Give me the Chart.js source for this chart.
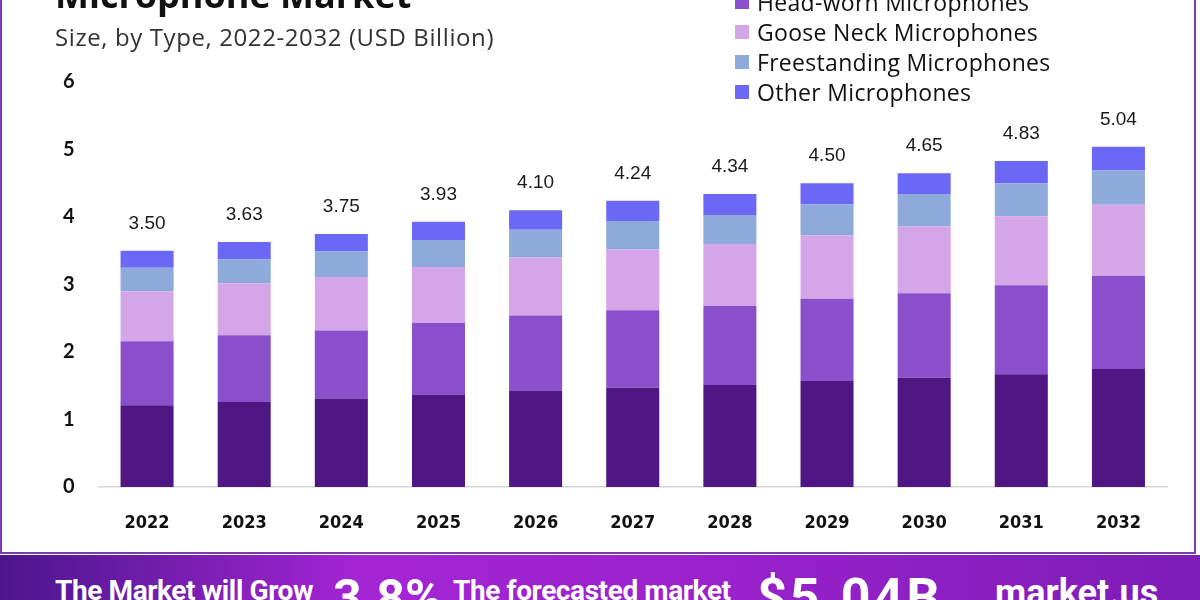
<!DOCTYPE html>
<html>
<head>
  <title>Microphone Market</title>
  <script src="https://cdn.jsdelivr.net/npm/chart.js"></script>
  <style>
    html, body { margin: 0; padding: 0; }
    body { width: 1200px; height: 600px; position: relative; overflow: hidden; background: #fff; font-family: "Open Sans", sans-serif; }
    #frame { position: absolute; left: 0; top: -10px; width: 1196px; height: 564px; border: 2px solid #7a3cb0; border-top: none; box-sizing: border-box; }
    #chartBox { position: absolute; left: 0; top: 0; width: 1200px; height: 553px; }
    #title { position: absolute; left: 55px; top: -30px; font: 700 36px "Open Sans", sans-serif; color: #111; margin: 0; }
    #subtitle { position: absolute; left: 55px; top: 20px; font: 400 24px "Open Sans", sans-serif; letter-spacing: 0.6px; color: #333; }
    #legend { position: absolute; left: 735px; top: -43px; }
    .item { height: 30px; display: flex; align-items: center; font: 400 23px "Open Sans", sans-serif; letter-spacing: 0.3px; color: #111; }
    .box { width: 14px; height: 14px; margin-right: 8px; }
    #banner { position: absolute; left: 0; top: 555px; width: 1200px; height: 60px;
      background: linear-gradient(90deg, #4b168d 0%, #a425d4 30%, #9a22cc 60%, #7d1cb6 100%); color: #fff; }
    .bt { position: absolute; font-family: Roboto, sans-serif; font-weight: 700; white-space: nowrap; }
  </style>
</head>
<body>
  <div id="frame"></div>
  <div id="chartBox"><canvas id="myChart"></canvas></div>
  <h1 id="title">Microphone Market</h1>
  <div id="subtitle">Size, by Type, 2022-2032 (USD Billion)</div>
  <div id="legend"></div>
  <div id="banner">
    <span class="bt" style="left:55px; top:19px; font-size:28px; letter-spacing:-0.4px;">The Market will Grow</span>
    <span class="bt" style="left:333px; top:14px; font-size:50px;">3.8%</span>
    <span class="bt" style="left:453px; top:19px; font-size:28px; letter-spacing:-0.4px;">The forecasted market</span>
    <span class="bt" style="left:757px; top:12px; font-size:52px; letter-spacing:3px;">$5.04B</span>
    <span class="bt" style="left:995px; top:17px; font-size:36px;">market.us</span>
  </div>
  <script>
    // values (USD billion)
    const years = ['2022','2023','2024','2025','2026','2027','2028','2029','2030','2031','2032'];
    const handheld     = [1.21, 1.26, 1.31, 1.37, 1.43, 1.47, 1.51, 1.57, 1.62, 1.67, 1.75];
    const headWorn     = [0.95, 0.99, 1.01, 1.06, 1.11, 1.15, 1.17, 1.22, 1.25, 1.32, 1.38];
    const gooseNeck    = [0.74, 0.77, 0.79, 0.83, 0.86, 0.90, 0.92, 0.94, 0.99, 1.02, 1.05];
    const freestanding = [0.35, 0.35, 0.38, 0.40, 0.41, 0.42, 0.43, 0.46, 0.48, 0.49, 0.51];
    const other        = [0.25, 0.26, 0.26, 0.27, 0.29, 0.30, 0.31, 0.31, 0.31, 0.33, 0.35];
    const totals = ['3.50','3.63','3.75','3.93','4.10','4.24','4.34','4.50','4.65','4.83','5.04'];
    const yTicks = [0, 1, 2, 3, 4, 5, 6];

    const series = [
      { label: 'Handheld Microphones', data: handheld, color: '#4f1784' },
      { label: 'Head-worn Microphones', data: headWorn, color: '#8a50cc' },
      { label: 'Goose Neck Microphones', data: gooseNeck, color: '#d4a6e8' },
      { label: 'Freestanding Microphones', data: freestanding, color: '#8eaadb' },
      { label: 'Other Microphones', data: other, color: '#6b68f6' }
    ];

    // totals above each stack
    const totalLabels = {
      id: 'totalLabels',
      afterDatasetsDraw(chart) {
        const ctx = chart.ctx;
        const top = chart.getDatasetMeta(chart.data.datasets.length - 1);
        ctx.save();
        ctx.font = '19px "Liberation Sans", Arial, sans-serif';
        ctx.fillStyle = '#1a1a1a';
        ctx.textAlign = 'center';
        ctx.textBaseline = 'alphabetic';
        top.data.forEach((bar, i) => {
          ctx.fillText(totals[i], bar.x, bar.y - 22);
        });
        ctx.restore();
      }
    };

    const ctx = document.getElementById('myChart').getContext('2d');
    const myChart = new Chart(ctx, {
      type: 'bar',
      data: {
        labels: years,
        datasets: series.map(s => ({
          label: s.label,
          data: s.data,
          backgroundColor: s.color,
          borderWidth: 0,
          barPercentage: 0.546,
          categoryPercentage: 1
        }))
      },
      options: {
        responsive: true,
        maintainAspectRatio: false,
        animation: false,
        layout: { padding: { top: 82, right: 33, left: 0, bottom: 0 } },
        plugins: { legend: { display: false }, tooltip: { enabled: false }, title: { display: false } },
        scales: {
          x: {
            stacked: true,
            grid: { display: false },
            border: { display: true, color: '#d6d6d6', width: 1.5 },
            afterFit: (s) => { s.height = 66; },
            ticks: {
              padding: 18,
              color: '#111',
              font: { family: '"Liberation Sans Narrow", "DejaVu Sans Condensed", sans-serif', weight: 'bold', size: 18 }
            }
          },
          y: {
            stacked: true,
            min: 0,
            max: 6,
            grid: { display: false },
            border: { display: false },
            afterFit: (s) => { s.width = 98.5; },
            afterBuildTicks: (s) => { s.ticks = yTicks.map(v => ({ value: v })); },
            ticks: {
              padding: 16,
              color: '#111',
              font: { family: 'Lato, sans-serif', weight: 'bold', size: 20 }
            }
          }
        }
      },
      plugins: [totalLabels]
    });

    // legend built from the chart datasets
    const legend = document.getElementById('legend');
    myChart.data.datasets.forEach(ds => {
      const row = document.createElement('div');
      row.className = 'item';
      row.innerHTML = '<span class="box" style="background:' + ds.backgroundColor + '"></span>' + ds.label;
      legend.appendChild(row);
    });
  </script>
</body>
</html>
